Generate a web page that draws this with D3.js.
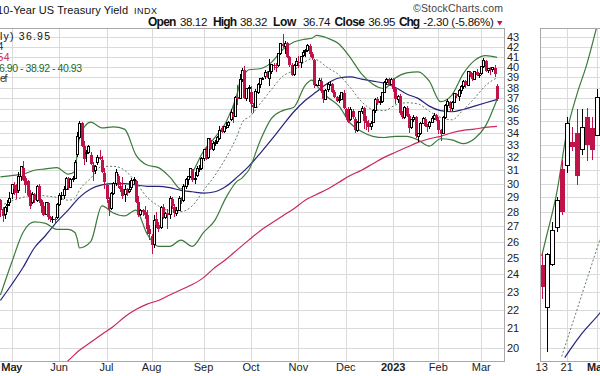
<!DOCTYPE html>
<html>
<head>
<meta charset="utf-8">
<script src="https://cdn.jsdelivr.net/npm/d3@7"></script>
<style>
  body { margin: 0; background: #fff; }
  svg { display: block; font-family: "Liberation Sans", Arial, sans-serif; }
</style>
</head>
<body>
<svg width="600" height="376"></svg>
<script>
// ---- calendar: trading days shown in the main panel ----
const firstDay = "2022-04-25";
const lastDay = "2023-03-10";
const holidays = ["2022-05-30", "2022-06-20", "2022-07-04", "2022-09-05", "2022-11-24",
                  "2022-12-26", "2023-01-02", "2023-01-16", "2023-02-20"];

// ---- daily OHLC of $TNX (yield x10), one row per month ----
const opens = [
  28.8, 28.2, 27.8, 28.4, 28.6,
  29.3, 29.9, 29.7, 29.5, 30.5, 31.2, 30.4, 30.2, 29.3, 28.6, 29.2, 28.8, 29.8, 28.8, 28.4, 27.8, 28.6, 27.6, 27.5, 27.5, 27.6,
  28.5, 29.2, 29.1, 29.6, 30.4, 29.7, 30.3, 30.4, 32.2, 33.6, 34.8, 32.9, 32.3, 32.4, 32.2, 31.4, 31.0, 31.6, 32.0, 31.8, 30.8,
  29.9, 28.8, 28.2, 29.3, 30.0, 30.6, 29.8, 29.6, 29.2, 29.6, 29.4, 29.7, 30.2, 30.2, 28.7, 27.8, 28.1, 28.0, 27.8, 26.8,
  26.4, 25.8, 27.5, 27.1, 26.9, 28.3, 27.6, 27.9, 27.8, 28.9, 28.3, 27.9, 28.1, 28.9, 28.8, 29.8, 30.3, 30.5, 31.1, 30.3, 30.6, 31.1, 31.1,
  31.9, 32.6, 32.0, 33.4, 32.6, 33.1, 33.3, 33.5, 34.4, 34.1, 34.5, 34.6, 35.1, 35.6, 35.4, 37.1, 37.0, 38.8, 39.7, 37.0, 37.9,
  37.6, 36.4, 36.2, 37.5, 38.3, 38.8, 39.0, 39.4, 38.9, 39.5, 40.2, 40.0, 40.1, 41.3, 42.3, 42.0, 42.4, 41.0, 40.2, 39.2, 40.1,
  40.5, 40.4, 41.1, 41.5, 41.6, 42.1, 41.3, 40.7, 38.2, 38.2, 38.6, 37.7, 36.9, 37.8, 38.3, 38.3, 37.6, 37.1, 36.8, 36.9, 37.5,
  36.0, 35.3, 35.1, 35.9, 35.2, 34.2, 34.9, 35.8, 36.1, 35.0, 34.8, 34.5, 34.9, 35.9, 36.9, 36.6, 36.7, 37.5, 38.5, 38.8, 38.3,
  38.8, 37.9, 36.9, 37.2, 35.7, 35.3, 36.1, 35.4, 34.4, 35.1, 35.3, 33.7, 33.9, 34.8, 35.2, 34.6, 34.5, 34.9, 35.2, 35.5,
  35.1, 34.2, 33.9, 35.3, 36.4, 36.7, 36.1, 36.6, 37.4, 37.2, 37.7, 38.1, 38.6, 38.2, 39.5, 39.2, 38.8, 39.5, 39.2,
  39.3, 40.0, 40.6, 39.6, 39.8, 39.7, 39.9, 38.12
];
const highs = [
  28.9, 28.3, 28.4, 28.8, 29.4,
  30.0, 30.1, 30.0, 30.9, 31.3, 31.7, 30.6, 30.3, 29.5, 29.4, 29.3, 29.9, 30.0, 28.9, 28.7, 28.6, 28.7, 27.7, 27.7, 27.6, 28.6,
  29.3, 29.4, 29.8, 30.5, 30.5, 30.4, 30.6, 31.8, 34.1, 35.0, 34.9, 33.3, 32.6, 33.0, 32.4, 31.6, 31.4, 32.2, 32.6, 32.1, 31.2,
  30.0, 29.0, 29.4, 30.1, 31.1, 30.7, 30.1, 30.5, 29.9, 29.7, 30.2, 30.4, 30.5, 30.3, 29.1, 28.2, 28.2, 28.4, 28.1, 27.1,
  26.5, 27.8, 28.0, 27.3, 28.4, 28.5, 28.0, 28.2, 29.1, 29.0, 28.5, 28.3, 29.1, 29.0, 30.0, 30.4, 30.6, 31.2, 31.1, 30.9, 31.3, 31.4, 32.0,
  32.7, 32.8, 33.6, 33.6, 33.3, 33.4, 33.7, 34.6, 34.6, 34.6, 34.9, 35.0, 36.0, 36.4, 37.2, 38.2, 39.3, 39.9, 40.1, 38.0, 38.2,
  38.1, 36.6, 37.9, 38.4, 38.9, 39.0, 39.7, 39.6, 40.8, 40.3, 40.4, 40.4, 41.4, 42.4, 43.3, 42.6, 42.5, 41.1, 40.4, 40.3, 40.9,
  41.1, 41.1, 41.7, 41.8, 42.3, 42.3, 41.5, 40.8, 38.3, 38.9, 38.9, 37.8, 37.9, 38.5, 38.6, 38.4, 37.8, 37.2, 37.3, 37.6, 37.8,
  36.1, 36.2, 36.2, 36.0, 35.3, 35.0, 35.9, 36.3, 36.2, 35.4, 35.1, 35.0, 36.0, 37.0, 37.1, 37.2, 37.5, 38.6, 38.9, 38.9, 38.9,
  38.9, 38.0, 37.3, 37.4, 35.9, 36.3, 36.3, 35.6, 35.2, 35.5, 35.4, 34.0, 34.9, 35.3, 35.3, 34.7, 35.0, 35.4, 35.7, 35.6,
  35.3, 34.3, 35.4, 36.5, 36.9, 36.8, 36.8, 37.5, 37.5, 37.9, 38.2, 38.7, 38.7, 39.6, 39.6, 39.4, 39.6, 39.8, 39.4,
  40.1, 40.9, 40.7, 39.9, 40.0, 40.0, 40.2, 38.32
];
const lows = [
  27.6, 27.3, 27.5, 28.0, 28.4,
  28.9, 29.2, 28.9, 29.3, 30.2, 30.2, 29.3, 29.0, 28.2, 28.5, 28.6, 28.7, 28.6, 27.9, 27.7, 27.8, 27.4, 27.3, 27.2, 27.2, 27.5,
  28.4, 28.8, 28.9, 29.5, 29.5, 29.7, 30.1, 30.4, 32.0, 33.5, 32.8, 31.4, 31.6, 32.3, 31.4, 30.2, 30.7, 31.4, 31.8, 30.8, 29.6,
  28.6, 27.7, 28.1, 29.2, 29.8, 29.7, 29.4, 28.9, 28.7, 29.1, 29.3, 29.5, 30.0, 28.6, 27.6, 27.7, 27.7, 27.5, 26.5, 26.1,
  25.2, 25.6, 26.9, 26.6, 26.8, 27.5, 27.5, 26.8, 27.5, 28.2, 27.6, 27.7, 28.1, 28.5, 28.7, 29.6, 29.9, 30.4, 30.1, 30.0, 30.5, 30.9, 31.0,
  31.7, 31.8, 31.9, 32.6, 32.5, 32.9, 33.1, 33.4, 34.0, 34.0, 34.3, 34.4, 35.0, 34.8, 35.3, 36.4, 36.9, 38.5, 36.9, 36.8, 36.7,
  35.7, 35.7, 36.2, 37.4, 38.0, 38.7, 38.8, 38.9, 38.1, 39.3, 39.7, 39.5, 40.0, 41.2, 41.9, 41.3, 40.9, 40.0, 39.1, 39.1, 40.1,
  39.9, 39.9, 41.0, 41.0, 41.5, 41.0, 40.7, 38.0, 38.1, 38.1, 37.5, 36.6, 36.9, 37.6, 38.1, 37.5, 37.0, 36.7, 36.6, 36.9, 36.0,
  35.1, 34.8, 35.0, 35.2, 34.0, 34.1, 34.8, 35.6, 34.3, 34.2, 34.1, 34.2, 34.8, 35.7, 36.4, 36.4, 36.6, 37.5, 38.2, 38.1, 38.2,
  37.6, 36.5, 36.6, 35.5, 35.2, 35.2, 35.3, 34.0, 34.3, 34.9, 33.6, 33.2, 33.8, 34.7, 34.5, 34.1, 34.3, 34.8, 35.1, 35.0,
  33.9, 33.3, 33.9, 35.2, 35.8, 35.9, 35.9, 36.6, 37.0, 36.8, 37.4, 37.9, 38.0, 38.2, 39.0, 38.6, 38.7, 39.1, 38.9,
  39.2, 39.9, 39.5, 39.4, 39.2, 39.5, 39.0, 36.74
];
const closes = [
  28.1, 27.7, 28.3, 28.5, 28.9,
  29.9, 29.6, 29.3, 30.5, 31.3, 30.3, 29.9, 29.2, 28.4, 29.2, 28.8, 29.8, 28.8, 28.4, 27.8, 28.6, 27.6, 27.5, 27.5, 27.4, 28.5,
  29.1, 29.1, 29.6, 30.4, 29.7, 30.3, 30.4, 31.6, 33.7, 34.8, 32.9, 31.9, 32.4, 32.9, 31.5, 30.9, 31.3, 32.0, 31.9, 30.9, 30.1,
  28.9, 28.2, 29.3, 30.0, 30.8, 29.9, 29.6, 29.1, 29.6, 29.3, 29.6, 30.2, 30.3, 28.7, 27.8, 28.1, 28.0, 27.8, 26.8, 26.5,
  25.8, 27.4, 27.1, 26.8, 28.3, 27.6, 27.9, 27.8, 28.9, 28.4, 27.9, 28.1, 28.9, 28.8, 29.8, 30.3, 30.5, 31.1, 30.3, 30.4, 31.1, 31.1, 31.9,
  32.6, 31.9, 33.5, 32.7, 33.1, 33.2, 33.6, 34.2, 34.1, 34.5, 34.5, 34.9, 35.7, 35.3, 37.1, 36.9, 38.8, 39.6, 37.0, 37.9, 38.0,
  36.5, 36.2, 37.6, 38.3, 38.9, 38.9, 39.4, 39.0, 39.5, 40.2, 40.1, 40.0, 41.3, 42.3, 42.1, 42.4, 41.0, 40.2, 39.2, 40.1, 40.5,
  40.4, 41.0, 41.4, 41.6, 42.1, 41.3, 40.9, 38.2, 38.2, 38.7, 37.7, 36.9, 37.7, 38.3, 38.3, 37.6, 37.1, 36.8, 36.9, 37.5, 36.1,
  35.3, 34.9, 36.0, 35.3, 34.2, 34.9, 35.8, 36.1, 35.0, 34.8, 34.5, 34.8, 35.9, 36.9, 36.6, 36.7, 37.5, 38.5, 38.8, 38.3, 38.8,
  37.9, 36.9, 37.2, 35.7, 35.3, 36.2, 35.4, 34.4, 35.1, 35.3, 33.7, 33.9, 34.8, 35.2, 34.6, 34.5, 34.9, 35.2, 35.5, 35.1,
  34.2, 33.9, 35.3, 36.4, 36.7, 36.1, 36.6, 37.4, 37.2, 37.7, 38.1, 38.6, 38.2, 39.5, 39.2, 38.8, 39.5, 39.2, 39.2,
  40.0, 40.6, 39.6, 39.8, 39.7, 39.9, 39.25, 36.95
];

// ---- overlays (bar position -> value) ----
const bbIdx = [0, 5, 10, 15, 20, 25, 30, 33, 34, 35, 40, 45, 50, 55, 60, 65, 70, 75, 80, 85, 90, 95, 100, 105,
               107, 108, 110, 115, 120, 125, 130, 135, 138, 140, 145, 150, 155, 160, 165, 170, 175, 180, 185,
               190, 195, 200, 205, 210, 215, 220];
const bbUpper = [30.5, 30.6, 30.7, 31.0, 31.1, 31.2, 30.7, 30.9, 32.3, 33.6, 34.9, 34.4, 34.5, 34.3, 32.2, 31.4,
                 31.2, 30.5, 29.6, 30.8, 32.5, 33.6, 34.9, 37.5, 39.2, 39.3, 39.7, 39.8, 40.4, 41.7, 42.5, 42.8,
                 42.9, 43.2, 42.9, 42.3, 40.9, 39.3, 38.3, 37.9, 38.9, 39.4, 39.5, 38.6, 36.7, 37.3, 39.3, 40.6,
                 41.1, 40.93];
const bbMid = [28.4, 28.75, 29.0, 29.2, 29.1, 29.0, 28.8, 28.9, 29.2, 29.5, 30.4, 31.3, 31.3, 31.0, 30.1, 29.0,
               28.4, 28.05, 28.0, 28.4, 29.5, 30.6, 32.0, 33.8, 34.8, 35.1, 35.3, 36.5, 37.8, 39.05, 39.65, 40.5,
               40.8, 40.7, 39.9, 39.2, 38.0, 36.7, 36.0, 35.9, 36.4, 36.6, 36.5, 35.85, 35.3, 35.1, 35.95, 37.0,
               38.2, 38.92];
const bbLower = [22.8, 24.7, 26.6, 27.3, 27.2, 26.8, 26.8, 26.6, 26.2, 25.6, 26.0, 28.4, 27.9, 27.7, 28.1, 26.5,
                 25.7, 25.7, 26.1, 25.7, 26.6, 27.4, 29.0, 30.2, 30.4, 30.6, 31.0, 33.3, 35.2, 35.9, 36.2, 38.2,
                 38.7, 38.2, 37.1, 36.3, 34.8, 34.1, 33.7, 33.6, 33.7, 33.7, 33.4, 32.9, 33.5, 33.4, 33.1, 33.5,
                 34.6, 36.90];
const sma50Idx = d3.range(0, 221, 5);
const sma50 = [22.5, 23.4, 24.4, 25.6, 26.4, 27.3, 28.1, 29.0, 29.6, 29.9, 30.0, 30.0, 29.9, 29.8, 29.8, 29.7,
               29.5, 29.4, 29.3, 29.4, 29.8, 30.5, 31.3, 32.3, 33.4, 34.6, 35.8, 36.8, 37.6, 38.4, 38.9, 39.0,
               38.8, 38.6, 38.4, 38.0, 37.4, 37.0, 36.3, 35.9, 35.8, 36.0, 36.3, 36.6, 36.9];
const sma200Idx = d3.range(25, 221, 5);
const sma200 = [19.0, 19.4, 19.9, 20.3, 20.7, 21.1, 21.6, 22.0, 22.3, 22.5, 22.8, 23.1, 23.4, 23.8, 24.4, 24.9,
                25.5, 26.1, 26.7, 27.2, 27.7, 28.2, 28.8, 29.2, 29.6, 30.1, 30.6, 31.0, 31.5, 32.0, 32.4, 32.8,
                33.2, 33.5, 33.7, 34.0, 34.2, 34.3, 34.45, 34.54];

// ---- neighbouring panel on the right (cut off by the frame) ----
const rpTicks = ["13", "21", "Mar"];
const rpTickIdx = [0, 5, 11];
const rpOpen = [24.55, 22.1, 24.6, 26.9, 31.1, 31.4, 33.2, 34.0, 32.6, 35.3, 34.4, 33.8, 40.5];
const rpHigh = [25.3, 25.3, 27.3, 29.0, 31.8, 35.3, 34.5, 36.0, 36.0, 36.1, 35.3, 37.9, 41.9];
const rpLow = [22.6, 19.8, 24.5, 26.6, 27.8, 30.8, 32.5, 29.9, 32.2, 31.7, 31.8, 33.7, 40.4];
const rpClose = [23.26, 25.2, 26.7, 28.8, 28.0, 34.75, 32.8, 30.6, 34.4, 33.0, 32.6, 37.1, 41.5];
const rpUpperIdx = [0, 1, 3, 5, 7, 9, 11];
const rpUpper = [25.1, 26.4, 29.3, 34.0, 37.3, 40.2, 44.1];
const rpMidIdx = [4, 12];
const rpMid = [19.6, 26.5];
const rpMaIdx = [4.6, 7.6, 11.6, 12.5];
const rpMa = [19.55, 20.6, 21.8, 22.1];

const yTicks = [20, 21, 22, 23, 24, 25, 26, 27, 28, 29, 30, 31, 32, 33, 34, 35, 36, 37, 38, 39, 40, 41, 42, 43];

// ---- layout ----
const plotTop = 28, plotBottom = 361, plotRight = 504, rpLeft = 540;
const red = "#c0134a", green = "#3b7a3b", navy = "#23237e", crimson = "#c8285a";

const svg = d3.select("svg");

const fmt = d3.timeFormat("%Y-%m-%d");
const days = d3.timeDay.range(d3.timeParse("%Y-%m-%d")(firstDay),
                              d3.timeDay.offset(d3.timeParse("%Y-%m-%d")(lastDay), 1))
  .filter(d => d.getDay() % 6 !== 0 && !holidays.includes(fmt(d)));

const x = d3.scaleLinear().domain([5, 220]).range([11.7, 497]);
const y = d3.scaleLog().domain([20, 43]).range([348.3, 37.3]);
const rx = d3.scaleLinear().domain([0, 12]).range([541.7, 601.7]);

// month gridlines at first trading day of each month
const monthTicks = days.map((d, i) => ({ d, i }))
  .filter(t => t.i > 0 && t.d.getMonth() !== days[t.i - 1].getMonth());

const px = v => Math.round(v) + 0.5;

// ---- grid ----
const grid = svg.append("g").attr("stroke", "#dadada").attr("shape-rendering", "crispEdges");
[[0, plotRight], [rpLeft, 600]].forEach(([a, b]) => {
  grid.selectAll(null).data(yTicks).enter().append("line")
    .attr("x1", a).attr("x2", b)
    .attr("y1", d => px(y(d))).attr("y2", d => px(y(d)));
});
grid.selectAll(null).data(monthTicks).enter().append("line")
  .attr("x1", d => px(x(d.i))).attr("x2", d => px(x(d.i)))
  .attr("y1", plotTop).attr("y2", plotBottom);
grid.selectAll(null).data(rpTickIdx.slice(1)).enter().append("line")
  .attr("x1", d => px(rx(d))).attr("x2", d => px(rx(d)))
  .attr("y1", plotTop).attr("y2", plotBottom);

// frames
const frame = svg.append("g").attr("stroke", "#a8a8a8").attr("fill", "none").attr("shape-rendering", "crispEdges");
frame.append("path").attr("d", `M0,${plotTop + 0.5}H${plotRight + 0.5}V${plotBottom + 0.5}H0`);
frame.append("path").attr("d", `M600,${plotTop + 0.5}H${rpLeft + 0.5}V${plotBottom + 0.5}H600`);

// clip paths
const defs = svg.append("defs");
defs.append("clipPath").attr("id", "clipMain").append("rect")
  .attr("x", 0).attr("y", plotTop + 1).attr("width", plotRight).attr("height", plotBottom - plotTop - 1);
defs.append("clipPath").attr("id", "clipRight").append("rect")
  .attr("x", rpLeft + 1).attr("y", plotTop + 1).attr("width", 60).attr("height", plotBottom - plotTop - 1);

// ---- overlays ----
function overlay(g, xs, idx, vals, color, dash, width) {
  g.append("path")
    .datum(d3.zip(idx, vals))
    .attr("fill", "none")
    .attr("stroke", color)
    .attr("stroke-width", width)
    .attr("stroke-dasharray", dash)
    .attr("d", d3.line().x(d => xs(d[0])).y(d => y(d[1])).curve(d3.curveMonotoneX));
}

const main = svg.append("g").attr("clip-path", "url(#clipMain)");
overlay(main, x, sma200Idx, sma200, crimson, null, 1.2);
overlay(main, x, sma50Idx, sma50, navy, null, 1.2);
overlay(main, x, bbIdx, bbMid, "#5f7f5f", "2,2", 1);
overlay(main, x, bbIdx, bbUpper, green, null, 1.2);
overlay(main, x, bbIdx, bbLower, green, null, 1.2);

const right = svg.append("g").attr("clip-path", "url(#clipRight)");
overlay(right, rx, rpMaIdx, rpMa, navy, null, 1.2);
overlay(right, rx, rpMidIdx, rpMid, "#5f7f5f", "2,2", 1);
overlay(right, rx, rpUpperIdx, rpUpper, green, null, 1.2);

// ---- candlesticks ----
function candles(g, xs, o, h, l, c, bodyW) {
  const data = c.map((v, i) => ({
    i, o: o[i], h: h[i], l: l[i], c: v,
    color: v < (i ? c[i - 1] : o[i]) ? red : "#000"
  }));
  const half = (bodyW - 1) / 2;
  g.selectAll(null).data(data).enter().append("line")
    .attr("x1", d => px(xs(d.i))).attr("x2", d => px(xs(d.i)))
    .attr("y1", d => y(d.h)).attr("y2", d => y(d.l))
    .attr("stroke", d => d.color);
  g.selectAll(null).data(data).enter().append("rect")
    .attr("x", d => Math.round(xs(d.i)) - half + (d.c > d.o ? 0.5 : 0))
    .attr("width", d => d.c > d.o ? bodyW - 1 : bodyW)
    .attr("y", d => y(Math.max(d.o, d.c)))
    .attr("height", d => Math.max(1, y(Math.min(d.o, d.c)) - y(Math.max(d.o, d.c))))
    .attr("fill", d => d.c > d.o ? "#fff" : d.color)
    .attr("stroke", d => d.c > d.o ? d.color : "none");
}
candles(main.append("g").attr("shape-rendering", "crispEdges"), x, opens, highs, lows, closes, 3);
candles(right.append("g").attr("shape-rendering", "crispEdges"), rx, rpOpen, rpHigh, rpLow, rpClose, 5);

// ---- axis labels ----
svg.append("g").attr("font-size", 11).attr("fill", "#222")
  .selectAll(null).data(yTicks).enter().append("text")
  .attr("x", 507).attr("y", d => y(d) + 4).text(d => d);

svg.append("g").attr("font-size", 11).attr("fill", "#222").attr("text-anchor", "middle")
  .selectAll(null).data(monthTicks.concat([{ d: new Date(2022, 4, 2), i: 5 }])).enter().append("text")
  .attr("x", d => x(d.i)).attr("y", 371)
  .attr("font-weight", d => d.d.getMonth() === 0 ? "bold" : null)
  .text(d => d.d.getMonth() === 0 ? d.d.getFullYear() : d3.timeFormat("%b")(d.d));

svg.append("g").attr("font-size", 11).attr("fill", "#222").attr("text-anchor", "middle")
  .selectAll(null).data(rpTicks).enter().append("text")
  .attr("x", (d, i) => rx(rpTickIdx[i])).attr("y", 371)
  .attr("font-weight", d => d === "Mar" ? "bold" : null)
  .text(d => d);

// ---- header ----
svg.append("text").attr("x", -3).attr("y", 13.5).attr("font-size", 11).attr("fill", "#111")
  .attr("textLength", 131).text("10-Year US Treasury Yield");
svg.append("text").attr("x", 134).attr("y", 13.5).attr("font-size", 9).attr("fill", "#111")
  .attr("textLength", 23).text("INDX");
svg.append("text").attr("x", 413).attr("y", 12).attr("font-size", 10.5).attr("fill", "#444")
  .attr("textLength", 90).text("\u00A9StockCharts.com");

const quote = [
  [148, "Open", true, 28.4], [180, "38.12", false, 27.3], [213, "High", true, 24], [240, "38.32", false, 27.3],
  [273, "Low", true, 23.4], [303, "36.74", false, 27.5], [334.5, "Close", true, 30.5], [368.3, "36.95", false, 27],
  [399, "Chg", true, 21], [423.3, "-2.30 (-5.86%)", false, 70.5]
];
svg.append("g").attr("fill", "#111").selectAll(null).data(quote).enter().append("text")
  .attr("x", d => d[0]).attr("y", 26)
  .attr("font-size", d => d[2] ? 12 : 11.5)
  .attr("font-weight", d => d[2] ? "bold" : null)
  .attr("textLength", d => d[3])
  .text(d => d[1]);
svg.append("path").attr("d", "M497,21L502.5,21L499.75,25.5Z").attr("fill", red);

// legend: only the tails survive the crop on the left
const legend = [
  ["ly) 36.95", "#111", 0, 39.5, 50],
  ["4", navy, -2.5, 50, 6],
  ["54", crimson, -2.5, 60.5, 12],
  ["6.90 - 38.92 - 40.93", "#1f6a1f", -1, 71.5, 83],
  ["ef", "#333", 0, 81.5, 7.5]
];
svg.append("g").attr("font-size", 10.5)
  .selectAll(null).data(legend).enter().append("text")
  .attr("x", d => d[2]).attr("y", d => d[3]).attr("fill", d => d[1])
  .attr("textLength", d => d[4])
  .text(d => d[0]);
</script>
</body>
</html>
